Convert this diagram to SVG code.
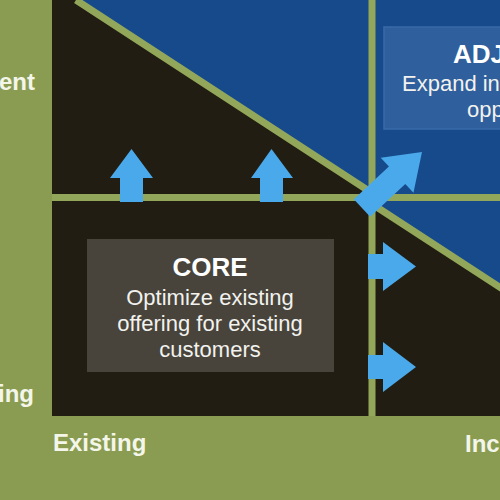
<svg xmlns="http://www.w3.org/2000/svg" width="500" height="500" viewBox="0 0 500 500">
  <style>
    .bg { fill: #8a9c52; }
    .dark { fill: #221d12; }
    .blue { fill: #174a8b; }
    .grid { stroke: #93a75b; stroke-width: 7; fill: none; }
    .arrow { fill: #4aa9ea; }
    .lbl { font-family: "Liberation Sans", Arial, sans-serif; font-weight: bold; font-size: 24px; fill: #f4f6ea; }
    .title { font-family: "Liberation Sans", Arial, sans-serif; font-weight: bold; font-size: 26px; fill: #ffffff; }
    .body { font-family: "Liberation Sans", Arial, sans-serif; font-size: 22px; fill: #f2f2ee; }
  </style>
  <rect class="bg" x="0" y="0" width="500" height="500"/>
  <g id="matrix">
    <rect class="blue" x="52" y="0" width="448" height="416"/>
    <polygon class="dark" points="52,0 76,0 372,193 372,204 500,287 500,416 52,416"/>
    <line class="grid" x1="52" y1="197.5" x2="500" y2="197.5"/>
    <line class="grid" x1="372" y1="0" x2="372" y2="416"/>
    <line class="grid" x1="76" y1="0" x2="372" y2="193"/>
    <line class="grid" x1="372" y1="204" x2="504" y2="290"/>
  </g>
  <g id="core">
    <rect x="87" y="239" width="247" height="133" fill="#48443b"/>
    <text class="title" x="210" y="276" text-anchor="middle">CORE</text>
    <text class="body" x="210" y="305" text-anchor="middle">Optimize existing</text>
    <text class="body" x="210" y="331" text-anchor="middle">offering for existing</text>
    <text class="body" x="210" y="357" text-anchor="middle">customers</text>
  </g>
  <g id="adjacent">
    <rect x="384" y="27" width="130" height="102" fill="#2f5f9c" stroke="#3a6aa8" stroke-width="1.5"/>
    <text class="title" x="453" y="63">ADJ</text>
    <text class="body" x="402" y="91">Expand in</text>
    <text class="body" x="467" y="117">opp</text>
  </g>
  <g id="connectors">
    <path class="arrow" d="M120,202 V178 H110 L131.5,149 L153,178 H143 V202 Z"/>
    <path class="arrow" d="M260,202 V178 H251 L271.5,149 L293,178 H283 V202 Z"/>
    <path class="arrow" d="M368,254 H383 V242 L416,266.5 L383,291 V279 H368 Z"/>
    <path class="arrow" d="M368,355 H383 V342 L416,367 L383,392 V379 H368 Z"/>
    <path class="arrow" transform="translate(362,208) rotate(-43)" d="M0,-12 H48 V-24 L82,0 L48,24 V12 H0 Z"/>
  </g>
  <g id="axis-labels">
    <text class="lbl" x="35" y="90" text-anchor="end">ent</text>
    <text class="lbl" x="34" y="402" text-anchor="end">ing</text>
    <text class="lbl" x="53" y="451">Existing</text>
    <text class="lbl" x="465" y="452">Inc</text>
  </g>
</svg>
